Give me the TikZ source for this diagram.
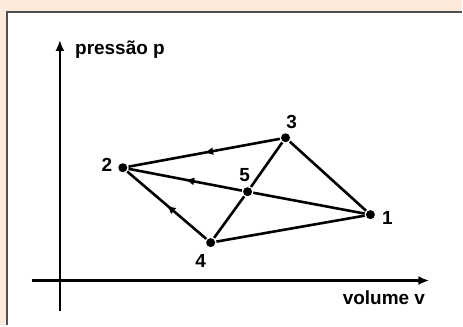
\documentclass[tikz,border=0pt]{standalone}
\usepackage{fontspec}
\setmainfont{Liberation Sans}
\usetikzlibrary{arrows.meta,decorations.markings}
\definecolor{peach}{RGB}{252,234,220}
\definecolor{frame}{RGB}{80,80,80}
\tikzset{
  dot/.style={circle,fill=black,inner sep=0pt,minimum size=9pt},
  numlabel/.style={font=\fontsize{19}{19}\selectfont\bfseries},
  midarrow/.style={postaction={decorate},
    decoration={markings,mark=at position 0.5 with {\arrow{Latex[length=9pt,width=8pt]}}}}
}
\begin{document}
\begin{tikzpicture}[x=1pt,y=1pt,line width=2.6pt]
    \fill[peach] (0,0) rectangle (463,326);
    \fill[white] (7,0) rectangle (463,314);
    \draw[frame,line width=1.5pt] (7,0) -- (7,314) -- (463,314);
    % axes
    \draw[-{Latex[length=11pt,width=9pt]}] (32,45) -- (430,45);
    \draw[-{Latex[length=11pt,width=9pt]}] (60,14) -- (60,286);
    \node[numlabel,anchor=west,inner sep=0pt] (ylab) at (74,276) {pressão p};
    \node[numlabel,anchor=east,inner sep=0pt] (xlab) at (427,28) {volume v};
    % points
    \node[dot] (p1) at (371,111) {};
    \node[dot] (p2) at (123,158) {};
    \node[dot] (p3) at (286,188) {};
    \node[dot] (p4) at (211,83) {};
    \node[dot] (p5) at (248,134) {};
    \node[numlabel] (n1) at (388,108) {1};
    \node[numlabel] (n2) at (107,161) {2};
    \node[numlabel] (n3) at (292,204) {3};
    \node[numlabel] (n4) at (201,65) {4};
    \node[numlabel] (n5) at (245,151) {5};
    % cycle
    \draw[midarrow] (p3) -- (p2);
    \draw[midarrow] (p5) -- (p2);
    \draw[midarrow] (p4) -- (p2);
    \draw (p1) -- (p5);
    \draw (p4) -- (p5) -- (p3);
    \draw (p3) -- (p1) -- (p4);
\end{tikzpicture}
\end{document}
